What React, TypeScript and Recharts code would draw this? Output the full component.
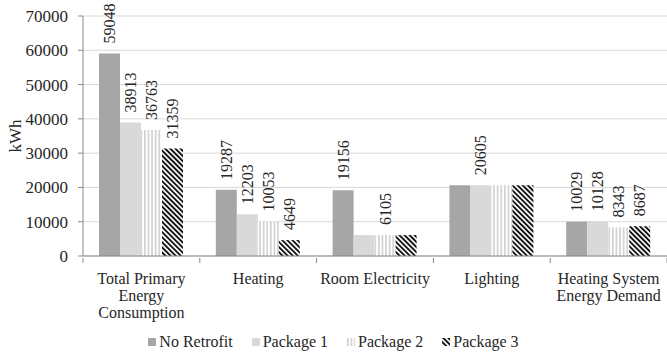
import React from 'react';
import { BarChart, Bar, XAxis, YAxis, CartesianGrid, Legend, LabelList } from 'recharts';

const categories = [
  'Total Primary\nEnergy\nConsumption',
  'Heating',
  'Room Electricity',
  'Lighting',
  'Heating System\nEnergy Demand',
];
const noRetrofit = [59048, 19287, 19156, 20605, 10029];
const package1 = [38913, 12203, 6105, 20605, 10128];
const package2 = [36763, 10053, 6105, 20605, 8343];
const package3 = [31359, 4649, 6105, 20605, 8687];
const yTicks = [0, 10000, 20000, 30000, 40000, 50000, 60000, 70000];

// repeated values only get one label per group
const hiddenLabels: Record<string, number[]> = {
  noRetrofit: [3],
  package1: [2],
  package2: [3],
  package3: [2, 3],
};

const data = categories.map((name, i) => ({
  name,
  noRetrofit: noRetrofit[i],
  package1: package1[i],
  package2: package2[i],
  package3: package3[i],
}));

const series = [
  { key: 'noRetrofit', name: 'No Retrofit', fill: '#a6a6a6' },
  { key: 'package1', name: 'Package 1', fill: '#d9d9d9' },
  { key: 'package2', name: 'Package 2', fill: 'url(#vstripe)' },
  { key: 'package3', name: 'Package 3', fill: 'url(#dstripe)' },
];

const W = 667;
const H = 353;
const Y_AXIS_W = 83;
const BAND = (W - Y_AXIS_W) / categories.length;
const FONT = 'Liberation Serif';
const TEXT = '#262626';

const CategoryTick = (props: any) => {
  const { x, y, payload, index } = props;
  const lines = String(payload.value).split('\n');
  return (
    <g>
      <line x1={x - BAND / 2} y1={y} x2={x - BAND / 2} y2={y + 5} stroke="#898989" />
      {index === categories.length - 1 && (
        <line x1={x + BAND / 2} y1={y} x2={x + BAND / 2} y2={y + 5} stroke="#898989" />
      )}
      <text x={x} y={y + 26} textAnchor="middle" style={{ fontFamily: FONT, fontSize: 16 }} fill={TEXT}>
        {lines.map((l, i) => (
          <tspan key={i} x={x} dy={i === 0 ? 0 : 17}>{l}</tspan>
        ))}
      </text>
    </g>
  );
};

const makeLabel = (key: string) => (props: any) => {
  const { x, y, width, value, index } = props;
  if (hiddenLabels[key]?.includes(index)) return null;
  const cx = x + width / 2;
  const cy = y - 10;
  return (
    <text
      x={cx}
      y={cy}
      transform={`rotate(-90 ${cx} ${cy})`}
      textAnchor="start"
      dominantBaseline="central"
      style={{ fontFamily: FONT, fontSize: 16 }}
      fill={TEXT}
    >
      {value}
    </text>
  );
};

const LegendContent = () => (
  <div style={{ display: 'flex', justifyContent: 'center', fontFamily: FONT, fontSize: 16, color: TEXT, lineHeight: '18px' }}>
    {series.map((s, i) => (
      <div key={s.key} style={{ display: 'flex', alignItems: 'center', marginLeft: i === 0 ? 0 : 19 }}>
        <svg width={8} height={8} style={{ marginRight: 3 }}>
          <rect width={8} height={8} fill={s.fill} />
        </svg>
        <span>{s.name}</span>
      </div>
    ))}
  </div>
);

export default function App() {
  return (
    <div style={{ position: 'absolute', left: 0, top: 0, background: '#fff' }}>
      <BarChart
        width={W}
        height={H}
        data={data}
        margin={{ top: 16, right: 0, bottom: 6, left: 0 }}
        barCategoryGap={16}
        barGap={0}
      >
        <defs>
          <pattern id="vstripe" patternUnits="userSpaceOnUse" width={3.6} height={10}>
            <rect width={3.6} height={10} fill="#ffffff" />
            <rect width={1.6} height={10} fill="#cfcfcf" />
          </pattern>
          <pattern id="dstripe" patternUnits="userSpaceOnUse" width={3.6} height={10} patternTransform="rotate(-45)">
            <rect width={3.6} height={10} fill="#ffffff" />
            <rect width={1.9} height={10} fill="#111111" />
          </pattern>
        </defs>
        <CartesianGrid vertical={false} stroke="#d9d9d9" />
        <XAxis
          dataKey="name"
          interval={0}
          tickLine={false}
          tickSize={0}
          height={65}
          stroke="#898989"
          tick={<CategoryTick />}
        />
        <YAxis
          width={Y_AXIS_W}
          domain={[0, 70000]}
          ticks={yTicks}
          interval={0}
          stroke="#898989"
          tickSize={5}
          tickMargin={10}
          tick={{ fontFamily: FONT, fontSize: 17, fill: TEXT }}
          label={{ value: 'kWh', angle: -90, position: 'insideLeft', offset: 15, style: { fontFamily: FONT, fontSize: 17, fill: TEXT, textAnchor: 'middle' } }}
        />
        <Legend
          verticalAlign="bottom"
          height={26}
          content={<LegendContent />}
          wrapperStyle={{ top: 333, left: 0, width: W }}
        />
        {series.map((s) => (
          <Bar key={s.key} dataKey={s.key} name={s.name} fill={s.fill} isAnimationActive={false}>
            <LabelList dataKey={s.key} content={makeLabel(s.key)} />
          </Bar>
        ))}
      </BarChart>
    </div>
  );
}
